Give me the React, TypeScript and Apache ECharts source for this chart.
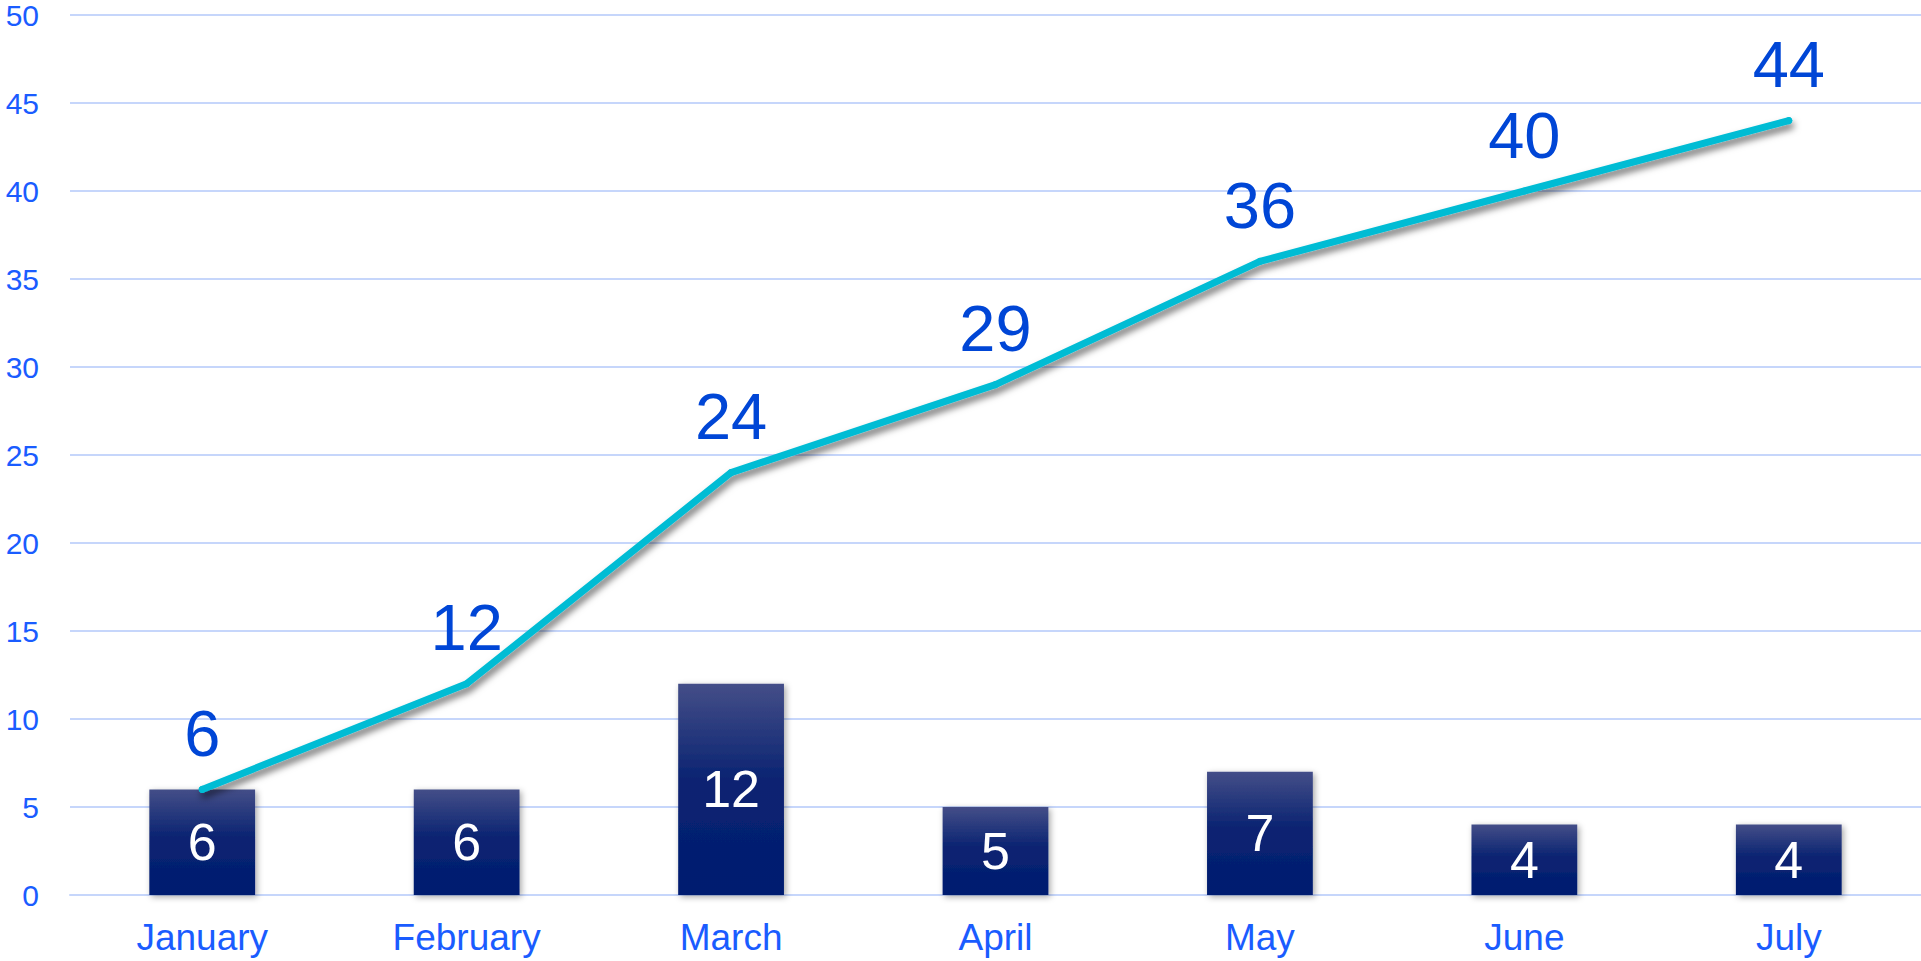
import React, { useEffect, useRef } from "react";
import * as echarts from "echarts";

const categories = ["January", "February", "March", "April", "May", "June", "July"];
const barValues = [6, 6, 12, 5, 7, 4, 4];
const lineValues = [6, 12, 24, 29, 36, 40, 44];
const yMin = 0;
const yMax = 50;
const yInterval = 5;

const FONT = "'Liberation Sans', Arial, sans-serif";

export default function App() {
  const ref = useRef<HTMLDivElement>(null);
  useEffect(() => {
    document.body.style.margin = "0";
    if (!ref.current) return;
    const chart = echarts.init(ref.current, null, { renderer: "svg" });
    chart.setOption({
      animation: false,
      backgroundColor: "#ffffff",
      grid: { left: 70, right: 0, top: 15, bottom: 66, containLabel: false },
      xAxis: {
        type: "category",
        data: categories,
        axisTick: { show: false },
        axisLine: { show: true, lineStyle: { color: "#c6d6fb", width: 2 } },
        axisLabel: { color: "#1a5cff", fontSize: 37, fontFamily: FONT, margin: 24 },
      },
      yAxis: {
        type: "value",
        min: yMin,
        max: yMax,
        interval: yInterval,
        axisLine: { show: false },
        axisTick: { show: false },
        splitLine: { lineStyle: { color: "#c6d6fb", width: 2 } },
        axisLabel: { color: "#1a5cff", fontSize: 30, fontFamily: FONT, margin: 31 },
      },
      series: [
        {
          type: "bar",
          data: barValues,
          barWidth: "40%",
          itemStyle: {
            color: new echarts.graphic.LinearGradient(0, 0, 0, 1, [
              { offset: 0, color: "#444e88" },
              { offset: 0.45, color: "#0b2472" },
              { offset: 1, color: "#001b70" },
            ]),
            shadowColor: "rgba(0,0,0,0.35)",
            shadowBlur: 6,
            shadowOffsetX: 2,
            shadowOffsetY: 2,
          },
          label: {
            show: true,
            position: "inside",
            color: "#ffffff",
            fontSize: 52,
            fontFamily: FONT,
          },
          z: 2,
        },
        {
          type: "line",
          data: lineValues,
          symbol: "circle",
          symbolSize: 7,
          itemStyle: { color: "#00bcd4" },
          lineStyle: {
            color: "#00bcd4",
            width: 7,
            cap: "round",
            join: "round",
            shadowColor: "rgba(0,0,0,0.55)",
            shadowBlur: 7,
            shadowOffsetX: 2,
            shadowOffsetY: 5,
          },
          label: {
            show: true,
            position: "top",
            distance: 20,
            color: "#0046d6",
            fontSize: 65,
            fontFamily: FONT,
          },
          z: 3,
        },
      ],
    });
    return () => chart.dispose();
  }, []);
  return <div ref={ref} style={{ position: "absolute", left: 0, top: 0, width: 1921, height: 961 }} />;
}
